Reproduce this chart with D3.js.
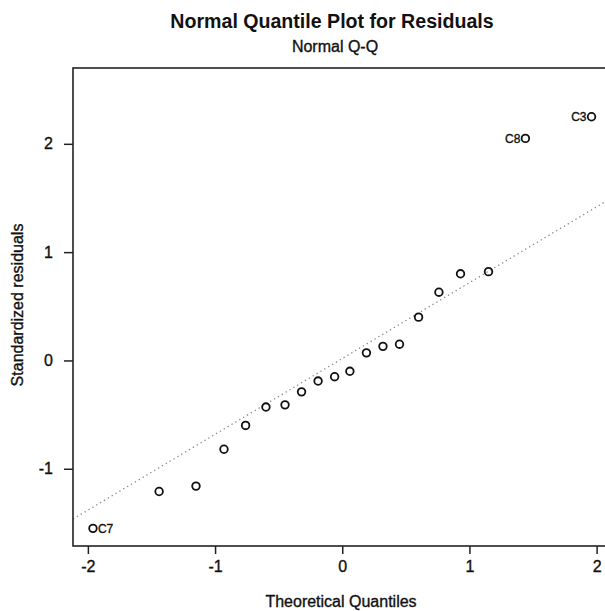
<!DOCTYPE html>
<html>
<head>
<meta charset="utf-8">
<script src="https://cdn.jsdelivr.net/npm/d3@7/dist/d3.min.js"></script>
<style>
  html, body { margin: 0; padding: 0; background: #fff; }
  svg { display: block; font-family: "Liberation Sans", Arial, sans-serif; }
  .heavy { stroke: #111; stroke-width: 0.35px; }
</style>
</head>
<body>
<div id="chart"></div>
<script>
// Theoretical quantiles (x) and standardized residuals (y)
const theoretical = [-1.96, -1.44, -1.15, -0.93, -0.76, -0.60, -0.45, -0.32, -0.19, -0.06,
                     0.06, 0.19, 0.32, 0.45, 0.60, 0.76, 0.93, 1.15, 1.44, 1.96];
const residuals = [-1.55, -1.21, -1.16, -0.82, -0.60, -0.43, -0.41, -0.29, -0.19, -0.15,
                   -0.10, 0.07, 0.13, 0.15, 0.40, 0.63, 0.80, 0.82, 2.05, 2.25];
const pointLabels = ['C7', '', '', '', '', '', '', '', '', '',
                     '', '', '', '', '', '', '', '', 'C8', 'C3'];

// qq reference line (intercept, slope)
const qqLine = { intercept: 0.018, slope: 0.70 };

const xTicks = [-2, -1, 0, 1, 2];
const yTicks = [-1, 0, 1, 2];

const width = 605;
const height = 611;
const plot = { left: 73, top: 68, right: 611.5, bottom: 546 };

const svg = d3.select('#chart')
    .append('svg')
    .attr('width', width)
    .attr('height', height);

const x = d3.scaleLinear()
    .domain([-2.117, 2.117])
    .range([plot.left, plot.right]);

const y = d3.scaleLinear()
    .domain([-1.713, 2.70])
    .range([plot.bottom, plot.top]);

// Titles
svg.append('text')
    .attr('x', 332)
    .attr('y', 28)
    .attr('text-anchor', 'middle')
    .style('font-size', '19.6px')
    .style('font-weight', 'bold')
    .style('fill', '#111')
    .text('Normal Quantile Plot for Residuals');

svg.append('text')
    .attr('class', 'heavy')
    .attr('x', 335)
    .attr('y', 52)
    .attr('text-anchor', 'middle')
    .style('font-size', '16px')
    .style('fill', '#111')
    .text('Normal Q-Q');

// Clip for the dotted line
svg.append('clipPath')
    .attr('id', 'plot-clip')
    .append('rect')
    .attr('x', plot.left)
    .attr('y', plot.top)
    .attr('width', plot.right - plot.left)
    .attr('height', plot.bottom - plot.top);

const xd = x.domain();
svg.append('line')
    .attr('clip-path', 'url(#plot-clip)')
    .attr('x1', x(xd[0]))
    .attr('y1', y(qqLine.intercept + qqLine.slope * xd[0]))
    .attr('x2', x(xd[1]))
    .attr('y2', y(qqLine.intercept + qqLine.slope * xd[1]))
    .style('stroke', '#888')
    .style('stroke-width', 1.3)
    .style('stroke-dasharray', '1.3,3.2');

// Axes
const fmt = d => String(d);
const xAxis = svg.append('g')
    .attr('transform', `translate(0,${plot.bottom})`)
    .call(d3.axisBottom(x).tickValues(xTicks).tickSize(8).tickPadding(7).tickFormat(fmt));

const yAxis = svg.append('g')
    .attr('transform', `translate(${plot.left},0)`)
    .call(d3.axisLeft(y).tickValues(yTicks).tickSize(9).tickPadding(11).tickFormat(fmt));

[xAxis, yAxis].forEach(g => {
    g.select('.domain').remove();
    g.selectAll('line').style('stroke', '#222').style('stroke-width', 1.5);
    g.selectAll('text')
        .attr('class', 'heavy')
        .style('font-size', '16px')
        .style('font-family', '"Liberation Sans", Arial, sans-serif')
        .style('fill', '#111');
});

// Plot box
svg.append('rect')
    .attr('x', plot.left)
    .attr('y', plot.top)
    .attr('width', plot.right - plot.left + 10)
    .attr('height', plot.bottom - plot.top)
    .style('fill', 'none')
    .style('stroke', '#222')
    .style('stroke-width', 1.6);

// Axis titles
svg.append('text')
    .attr('class', 'heavy')
    .attr('x', 341)
    .attr('y', 607)
    .attr('text-anchor', 'middle')
    .style('font-size', '16px')
    .style('fill', '#111')
    .text('Theoretical Quantiles');

svg.append('text')
    .attr('class', 'heavy')
    .attr('transform', `translate(23,305) rotate(-90)`)
    .attr('text-anchor', 'middle')
    .style('font-size', '16px')
    .style('fill', '#111')
    .text('Standardized residuals');

// Points
const points = theoretical.map((t, i) => ({ t: t, r: residuals[i], label: pointLabels[i] }));

svg.selectAll('.pt')
    .data(points)
    .enter()
    .append('circle')
    .attr('class', 'pt')
    .attr('cx', d => x(d.t))
    .attr('cy', d => y(d.r))
    .attr('r', 3.8)
    .style('fill', 'none')
    .style('stroke', '#111')
    .style('stroke-width', 1.8);

// Labels for the extreme points
svg.selectAll('.pt-label')
    .data(points.filter(d => d.label))
    .enter()
    .append('text')
    .attr('class', 'pt-label heavy')
    .attr('x', d => d.t < 0 ? x(d.t) + 5 : x(d.t) - 5)
    .attr('y', d => y(d.r) + 4.5)
    .attr('text-anchor', d => d.t < 0 ? 'start' : 'end')
    .style('font-size', '12px')
    .style('fill', '#111')
    .text(d => d.label);
</script>
</body>
</html>
